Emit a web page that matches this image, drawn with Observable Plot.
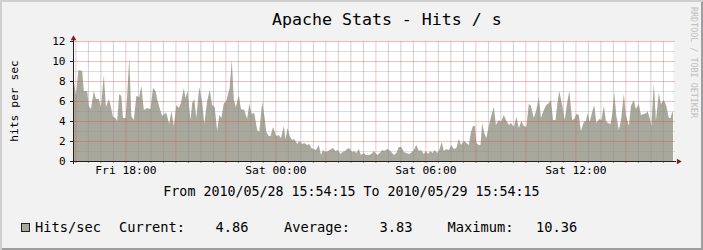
<!DOCTYPE html>
<html><head><meta charset="utf-8">
<script src="https://cdn.jsdelivr.net/npm/d3@7"></script>
<script src="https://cdn.jsdelivr.net/npm/@observablehq/plot@0.6"></script>
<style>
html,body{margin:0;padding:0;background:#f2f2f2;}
#chart{position:relative;width:703px;height:250px;background:#f2f2f2;box-shadow:inset 2px 2px 0 #cfcfcf, inset -2px -2px 0 #9e9e9e;overflow:hidden;font-family:"DejaVu Sans Mono",monospace;color:#000;}
.t{position:absolute;white-space:pre;line-height:1;margin:0;}
#chart svg{position:absolute;left:0;top:30px;overflow:visible;}
</style></head><body>
<div id="chart"></div>
<script>
// ---- data (minutes after 2010/05/28 15:54:15 UTC, hits per second) ----
const minutes = [0,7,13,22,26,34,38,43,50,55,62,67,74,79,86,90,96,102,106,111,116,120,126,130,135,140,146,152,159,164,170,178,186,192,198,203,208,214,219,224,231,236,242,248,254,259,266,270,275,282,286,291,296,303,310,315,322,328,334,340,346,351,356,362,367,371,376,381,386,391,398,403,411,418,423,429,435,442,447,454,459,464,470,474,480,488,494,499,506,510,515,520,526,531,538,543,550,555,562,567,572,578,583,590,595,600,606,612,618,624,630,635,642,647,653,658,663,670,675,680,686,691,698,703,710,716,722,730,736,742,747,754,759,764,770,776,782,788,794,800,806,811,818,824,830,835,842,847,852,858,863,868,874,879,885,890,896,902,908,914,920,926,931,938,944,950,955,960,965,968,974,978,982,987,992,998,1003,1010,1015,1022,1027,1034,1039,1046,1051,1058,1064,1070,1076,1082,1088,1094,1099,1106,1112,1118,1123,1130,1136,1142,1147,1152,1158,1162,1167,1174,1180,1186,1191,1198,1203,1208,1214,1219,1226,1231,1235,1240,1246,1251,1256,1263,1268,1274,1279,1284,1290,1294,1299,1304,1310,1315,1322,1327,1334,1339,1346,1351,1358,1363,1370,1376,1379,1384,1388,1394,1399,1406,1411,1418,1424,1430,1434,1438,1440];
const hits = [8.5,6.6,9.1,9.0,7.0,7.0,5.5,5.2,7.0,6.2,6.2,5.4,8.6,5.4,6.2,5.6,4.4,4.3,4.0,6.7,6.5,4.3,4.3,6.5,10.36,4.5,4.1,6.5,6.4,7.5,5.1,5.3,5.2,7.3,7.0,6.0,5.3,4.5,4.7,4.8,3.7,5.0,3.5,5.6,5.3,5.8,7.3,6.3,7.0,4.1,5.8,6.2,4.3,7.4,5.9,3.7,6.0,7.1,5.6,5.4,3.0,4.6,4.3,5.8,5.9,6.5,7.3,10.1,6.1,5.4,6.6,5.2,5.1,4.2,5.7,4.7,4.8,3.1,2.9,5.9,4.6,2.9,2.5,2.5,3.4,2.5,2.6,2.3,3.5,2.2,3.3,2.5,2.1,2.2,1.7,2.0,1.7,1.8,1.6,1.7,1.3,1.2,1.1,1.6,0.6,1.1,0.9,1.0,1.15,1.3,1.0,1.1,0.7,0.9,1.0,1.2,1.3,0.9,1.0,0.8,1.2,0.6,0.8,0.6,0.6,0.7,1.0,0.6,0.8,1.1,1.0,1.2,1.1,0.9,0.6,0.8,1.4,1.4,0.9,0.8,0.7,0.8,1.1,1.6,1.0,1.1,0.7,1.0,0.7,1.0,0.8,1.1,0.8,1.1,1.9,1.0,1.2,1.1,1.6,1.2,1.3,2.2,1.6,2.0,1.8,1.6,2.9,3.5,3.5,1.8,1.6,1.6,3.8,2.8,2.3,3.5,4.4,5.4,3.6,4.1,3.9,4.6,4.1,3.6,3.8,3.4,4.4,3.3,4.0,3.5,3.4,5.7,5.5,4.3,5.1,6.4,4.3,5.1,5.6,5.8,6.1,4.1,4.1,5.6,7.0,5.6,4.1,5.8,7.0,4.1,4.2,4.7,4.6,3.0,3.9,4.0,4.8,3.9,4.9,5.6,3.8,4.2,4.1,5.5,4.0,3.8,3.7,4.6,6.8,4.5,3.1,4.0,6.7,4.6,3.5,5.5,6.1,5.2,5.7,4.6,4.7,4.8,5.0,4.3,3.5,7.8,4.0,6.8,5.7,6.1,5.5,4.3,4.3,4.9,4.86];

const yTicks = [0, 2, 4, 6, 8, 10, 12];
const yMinor = [1, 3, 5, 7, 9, 11];
const xTickTimes = ["2010-05-28T18:00:00Z", "2010-05-29T00:00:00Z", "2010-05-29T06:00:00Z", "2010-05-29T12:00:00Z"];
const xTickLabels = ["Fri 18:00", "Sat 00:00", "Sat 06:00", "Sat 12:00"];
const statLabels = ["Current:", "Average:", "Maximum:"];
const statValues = ["4.86", "3.83", "10.36"];
const titleText = "Apache Stats - Hits / s";
const yLabel = "hits per sec";
const seriesName = "Hits/sec";
const rangeText = "From 2010/05/28 15:54:15 To 2010/05/29 15:54:15";
const creditText = "RRDTOOL / TOBI OETIKER";

const fillColor = "#a8a89c";
const t0 = new Date(Date.UTC(2010, 4, 28, 15, 54, 15));
const t1 = new Date(Date.UTC(2010, 4, 29, 15, 54, 15));
const data = minutes.map((m, i) => ({t: new Date(+t0 + m * 60000), v: hits[i]}));
const xTicks = xTickTimes.map((s, i) => ({t: new Date(s), label: xTickLabels[i]}));
const majorX = d3.utcHour.every(2).range(t0, t1);
const majorSet = new Set(majorX.map(d => +d));
const minorX = d3.utcMinute.every(30).range(t0, t1).filter(d => !majorSet.has(+d));

const gridMinor = {stroke: "#8f8f8f", strokeOpacity: 0.42};
const gridMajorV = {stroke: "#de4f4f", strokeOpacity: 0.32};
const gridMajorH = {stroke: "#de4f4f", strokeOpacity: 0.38};
const axisColor = "#1f1f1f";
const arrowColor = "#801f1f";

const plot = Plot.plot({
  width: 703,
  height: 152,
  marginLeft: 73,
  marginRight: 30,
  marginTop: 11,
  marginBottom: 21,
  style: {background: "transparent", fontFamily: "DejaVu Sans Mono", color: "black", overflow: "visible"},
  x: {type: "utc", domain: [t0, t1], axis: null},
  y: {domain: [0, 12], axis: null},
  marks: [
    Plot.frame({fill: "white"}),
    Plot.areaY(data, {x: "t", y: "v", fill: fillColor, curve: "linear"}),
    Plot.ruleX(minorX, {...gridMinor}),
    Plot.ruleY(yMinor, {...gridMinor, strokeOpacity: 0.3, insetRight: -2}),
    Plot.ruleX(majorX, {...gridMajorV}),
    Plot.ruleY(yTicks.filter(d => d > 0), {...gridMajorH, insetRight: -2}),
    // small ticks on axes
    Plot.ruleX(minorX, {y1: 0, y2: 0, insetBottom: -2, stroke: "#8f8f8f"}),
    Plot.ruleX(majorX, {y1: 0, y2: 0, insetBottom: -2, stroke: "#de4f4f"}),
    Plot.ruleY(yTicks, {x1: t0, x2: t0, insetLeft: -3, stroke: axisColor}),
    // axis lines
    Plot.ruleY([0], {stroke: axisColor, insetRight: -3}),
    Plot.ruleX([t0], {stroke: axisColor, insetTop: -3, insetBottom: -3}),
    // arrows
    Plot.dot([{t: t0, v: 12}], {x: "t", y: "v", symbol: "triangle", r: 2.1, fill: arrowColor, stroke: null, dy: -3}),
    Plot.dot([{t: t1, v: 0}], {x: "t", y: "v", symbol: "triangle", r: 2.1, fill: arrowColor, stroke: null, dx: 5, rotate: 90}),
    // tick labels
    Plot.text(yTicks, {y: d => d, text: d => String(d), frameAnchor: "left", textAnchor: "end", dx: -8, fontSize: 11, fill: "black"}),
    Plot.text(xTicks, {x: "t", text: "label", frameAnchor: "bottom", dy: 12, fontSize: 11.3, fill: "black"})
  ]
});

const chart = document.getElementById("chart");

function addText(txt, css) {
  const el = document.createElement("div");
  el.className = "t";
  el.textContent = txt;
  Object.assign(el.style, css);
  chart.appendChild(el);
  return el;
}

addText(titleText, {left: "272px", top: "12px", fontSize: "16.6px"});
chart.appendChild(plot);
addText(rangeText, {left: "0px", width: "703px", textAlign: "center", top: "184.5px", fontSize: "13.3px"});

// y-axis title (rotated, reads bottom to top)
addText(yLabel, {left: "15px", top: "101px", fontSize: "11.3px", transform: "translate(-50%, -50%) rotate(-90deg)"});

// legend
const box = document.createElement("div");
Object.assign(box.style, {position: "absolute", left: "20.5px", top: "223px", width: "9px", height: "9px", boxSizing: "border-box", border: "1px solid #222", background: fillColor});
chart.appendChild(box);
addText(seriesName, {left: "35px", top: "220.7px", fontSize: "13.7px"});
const labelLeft = [119, 284, 447.5];
const valueLeft = [215.5, 379.5, 536];
statLabels.forEach((s, i) => {
  addText(s, {left: labelLeft[i] + "px", top: "220.7px", fontSize: "13.7px"});
  addText(statValues[i], {left: valueLeft[i] + "px", top: "220.7px", fontSize: "13.7px"});
});

// credit
addText(creditText, {left: "689.5px", top: "6.5px", fontSize: "8.4px", lineHeight: "8px", writingMode: "vertical-rl", color: "#bdbdbd"});
</script>
</body></html>
